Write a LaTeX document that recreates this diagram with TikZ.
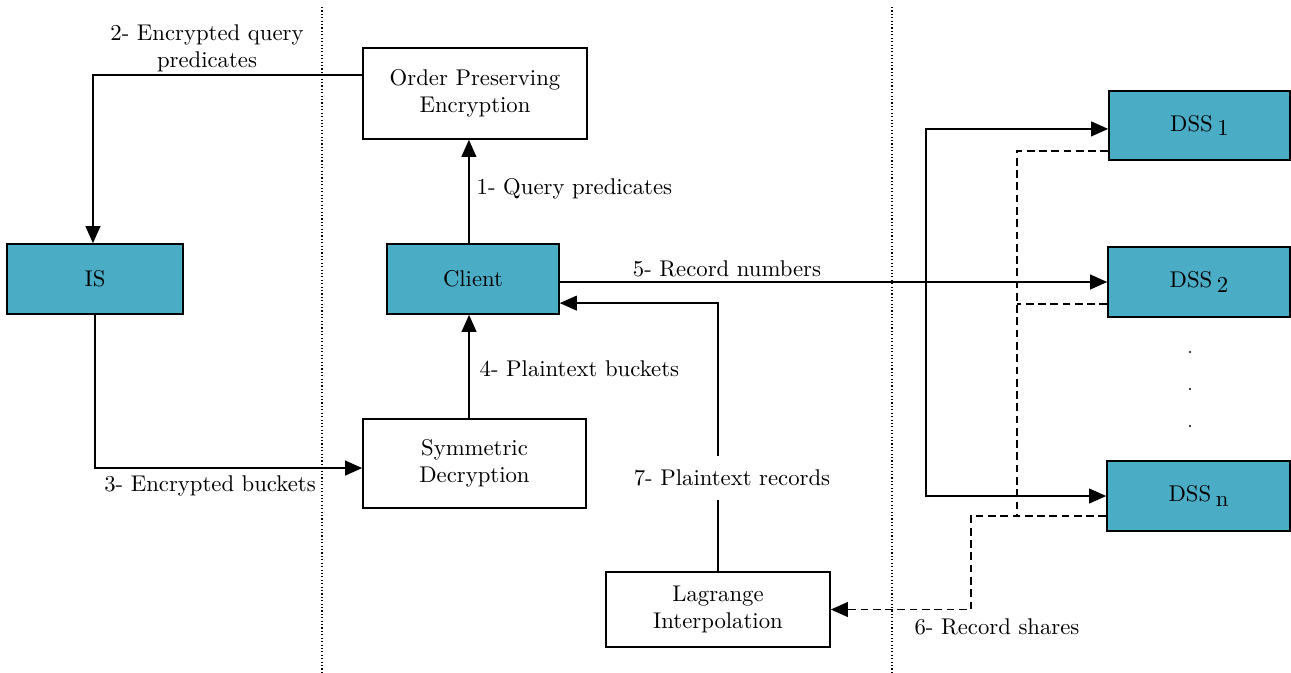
\documentclass[tikz,border=0pt]{standalone}
\usetikzlibrary{arrows.meta,calc}
\definecolor{srvblue}{RGB}{75,172,198}
\begin{document}
\begin{tikzpicture}[x=0.44pt,y=-0.44pt,
  sz/.style 2 args={minimum width={#1*0.44pt},minimum height={#2*0.44pt}},
  block/.style={draw,line width=0.7pt,align=center,inner sep=2pt},
  proc/.style={block,fill=white},
  srv/.style={block,fill=srvblue},
  arr/.style={line width=0.7pt,-{Triangle[length=7.5pt,width=6.5pt]}},
  shr/.style={line width=0.7pt,dash pattern=on 3.4pt off 2pt},
  shrarr/.style={shr,-{Triangle[length=7.5pt,width=6.5pt]}},
  zone/.style={line width=0.5pt,densely dotted},
  lbl/.style={inner sep=1pt}]
\useasboundingbox (0,0) rectangle (1291,672);

% zone separators
\draw[zone] (322,7) -- (322,672);
\draw[zone] (892,7) -- (892,672);

% blocks
\node[proc,sz={224}{91}] (ope) at (475,93.5) {Order Preserving\\Encryption};
\node[srv,sz={172}{70}] (client) at (473,279) {Client};
\node[srv,sz={176}{70}] (is) at (95,279) {IS};
\node[proc,sz={223}{89}] (sd) at (474.5,463.5) {Symmetric\\Decryption};
\node[proc,sz={224}{75}] (lag) at (718,609.5) {Lagrange\\Interpolation};
\node[srv,sz={181}{69}] (dss1) at (1199.5,125.5) {DSS\hspace{2pt}\raisebox{-0.45ex}{1}};
\node[srv,sz={182}{70}] (dss2) at (1199,282) {DSS\hspace{2pt}\raisebox{-0.45ex}{2}};
\node[srv,sz={183}{70}] (dssn) at (1198.5,496) {DSS\hspace{2pt}\raisebox{-0.45ex}{n}};

% vertical ellipsis between the servers
\foreach \yy in {352,389,426} \fill (1190,\yy) circle (0.5pt);

% 1: client -> order preserving encryption
\draw[arr] ([xshift=-1.8pt]client.north) -- ([xshift=-1.8pt]client.north |- ope.south);
\node[lbl,anchor=west] (l1) at (474,189) {1- Query predicates};

% 2: encrypted predicates -> IS
\coordinate (o2) at ($(ope.north west)!0.3!(ope.south west)$);
\draw[arr] (o2) -| ([xshift=-0.9pt]is.north);
\node[lbl,align=center] (l2) at (207,48) {2- Encrypted query\\predicates};

% 3: IS -> symmetric decryption
\draw[arr] (is.south) |- ([yshift=-2pt]sd.west);
\node[lbl] (l3) at (210,486) {3- Encrypted buckets};

% 4: symmetric decryption -> client
\draw[arr] ([xshift=-2.4pt]sd.north) -- ([xshift=-2.4pt]sd.north |- client.south);
\node[lbl,anchor=west] (l4) at (477,369) {4- Plaintext buckets};

% 5: record numbers to the servers
\draw[arr] (client.east |- dss2.west) -- (dss2.west);
\coordinate (fork) at (926,282);
\draw[arr] (fork) |- ([yshift=-1.5pt]dss1.west);
\draw[arr] (fork) |- (dssn.west);
\node[lbl] (l5) at (727,269) {5- Record numbers};

% 6: record shares back to the interpolation
\coordinate (s1) at ([yshift=-11.2pt]dss1.west);
\coordinate (s2) at ([yshift=-9.7pt]dss2.west);
\coordinate (sn) at ([yshift=-8.8pt]dssn.west);
\coordinate (join) at (1017,0);
\draw[shr] (s1) -| (join |- sn);
\draw[shr] (s2) -- (join |- s2);
\draw[shrarr] (sn) -| ($(lag.east)+(140,0)$) -- (lag.east);
\node[lbl] (l6) at (997,627) {6- Record shares};

% 7: plaintext records -> client
\draw[arr] (lag.north) |- ([yshift=-10.6pt]client.east);
\node[fill=white,inner xsep=1pt,inner ysep=6pt] (l7) at (732,478) {7- Plaintext records};
\end{tikzpicture}
\end{document}
